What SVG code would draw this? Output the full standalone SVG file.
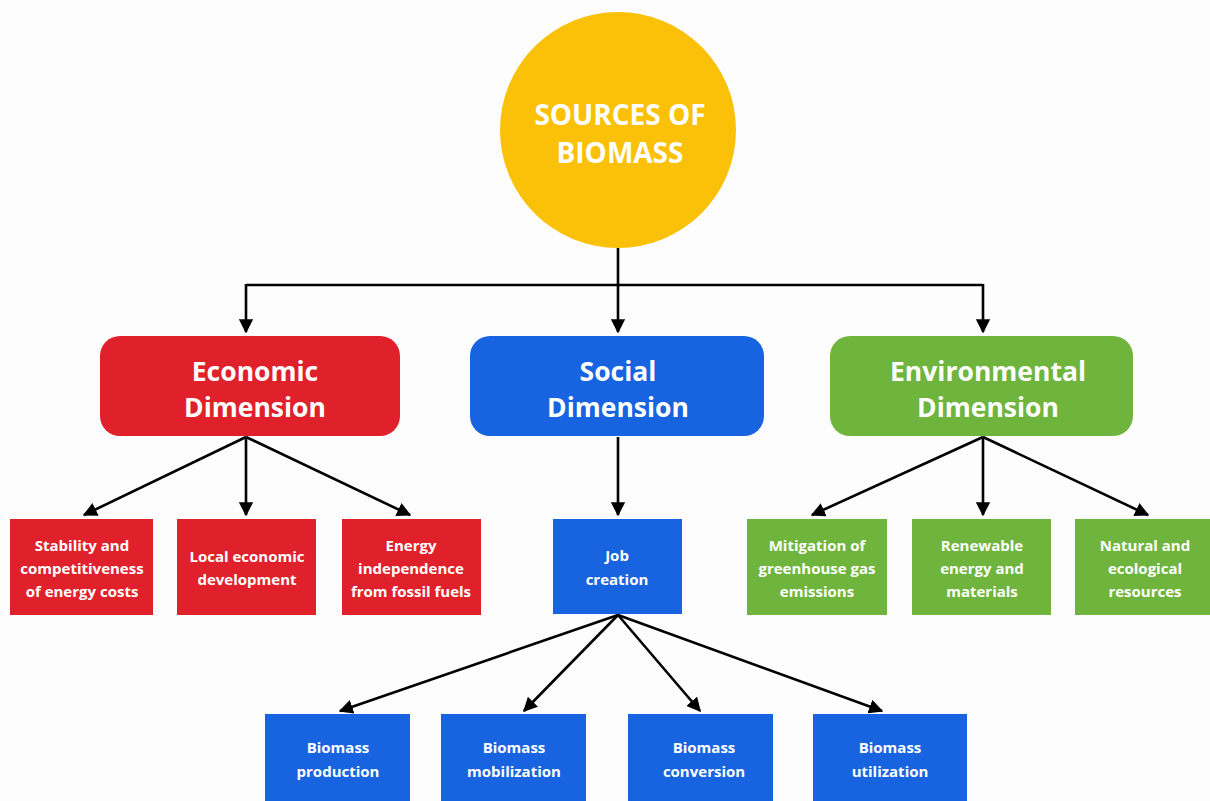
<svg xmlns="http://www.w3.org/2000/svg" width="1210" height="801" viewBox="0 0 1210 801">
<defs>
<marker id="ah" viewBox="0 0 10 10" refX="9" refY="5" markerWidth="5.5" markerHeight="5.5" orient="auto" markerUnits="strokeWidth">
<path d="M0,0 L10,5 L0,10 z" fill="#000"/>
</marker>
<style>
.t{font-family:"Open Sans","Noto Sans","Liberation Sans",sans-serif;font-weight:bold;fill:#fff;text-anchor:middle}
.big{font-size:26.5px}
.sm{font-size:15px}
.c{stroke:#000;stroke-width:2.6;fill:none}
.a{marker-end:url(#ah)}
.red{fill:#E0212B}
.blue{fill:#1763E0}
.green{fill:#6FB43C}
</style>
</defs>
<rect width="1210" height="801" fill="#fdfdfd"/>
<g id="connectors">
<path class="c" d="M618,248 V285 M246,285 H983"/>
<path class="c a" d="M246,284 V332"/>
<path class="c a" d="M618,284 V332"/>
<path class="c a" d="M983,284 V332"/>
<path class="c a" d="M246,437 L84,515"/>
<path class="c a" d="M246,437 V515"/>
<path class="c a" d="M246,437 L410,515"/>
<path class="c a" d="M618,437 V515"/>
<path class="c a" d="M983,437 L812,515"/>
<path class="c a" d="M983,437 V515"/>
<path class="c a" d="M983,437 L1148,515"/>
<path class="c a" d="M618,615 L340,711"/>
<path class="c a" d="M618,615 L524,711"/>
<path class="c a" d="M618,615 L700,711"/>
<path class="c a" d="M618,615 L882,711"/>
</g>
<g id="root">
<circle cx="618" cy="130" r="118" fill="#FAC108"/>
<text class="t" x="620" y="125" font-size="28">SOURCES OF</text>
<text class="t" x="620" y="163" font-size="28">BIOMASS</text>
</g>
<g id="economic">
<rect class="red" x="100" y="336" width="300" height="100" rx="20"/>
<text class="t big" x="255" y="381">Economic</text>
<text class="t big" x="255" y="417">Dimension</text>
</g>
<g id="social">
<rect class="blue" x="470" y="336" width="294" height="100" rx="20"/>
<text class="t big" x="618" y="381">Social</text>
<text class="t big" x="618" y="417">Dimension</text>
</g>
<g id="environmental">
<rect class="green" x="830" y="336" width="303" height="100" rx="20"/>
<text class="t big" x="988" y="381">Environmental</text>
<text class="t big" x="988" y="417">Dimension</text>
</g>
<g id="stability">
<rect class="red" x="10" y="519" width="143" height="96"/>
<text class="t sm" x="82" y="551">Stability and</text>
<text class="t sm" x="82" y="574">competitiveness</text>
<text class="t sm" x="82" y="597">of energy costs</text>
</g>
<g id="local">
<rect class="red" x="177" y="519" width="139" height="96"/>
<text class="t sm" x="247" y="562">Local economic</text>
<text class="t sm" x="247" y="585">development</text>
</g>
<g id="energyind">
<rect class="red" x="342" y="519" width="139" height="96"/>
<text class="t sm" x="411" y="551">Energy</text>
<text class="t sm" x="411" y="574">independence</text>
<text class="t sm" x="411" y="597">from fossil fuels</text>
</g>
<g id="job">
<rect class="blue" x="553" y="519" width="129" height="95"/>
<text class="t sm" x="617" y="561">Job</text>
<text class="t sm" x="617" y="585">creation</text>
</g>
<g id="mitigation">
<rect class="green" x="747" y="519" width="140" height="96"/>
<text class="t sm" x="817" y="551">Mitigation of</text>
<text class="t sm" x="817" y="574">greenhouse gas</text>
<text class="t sm" x="817" y="597">emissions</text>
</g>
<g id="renewable">
<rect class="green" x="912" y="519" width="139" height="96"/>
<text class="t sm" x="982" y="551">Renewable</text>
<text class="t sm" x="982" y="574">energy and</text>
<text class="t sm" x="982" y="597">materials</text>
</g>
<g id="natural">
<rect class="green" x="1075" y="519" width="140" height="96"/>
<text class="t sm" x="1145" y="551">Natural and</text>
<text class="t sm" x="1145" y="574">ecological</text>
<text class="t sm" x="1145" y="597">resources</text>
</g>
<g id="production">
<rect class="blue" x="265" y="714" width="145" height="90"/>
<text class="t sm" x="338" y="753">Biomass</text>
<text class="t sm" x="338" y="777">production</text>
</g>
<g id="mobilization">
<rect class="blue" x="441" y="714" width="145" height="90"/>
<text class="t sm" x="514" y="753">Biomass</text>
<text class="t sm" x="514" y="777">mobilization</text>
</g>
<g id="conversion">
<rect class="blue" x="628" y="714" width="145" height="90"/>
<text class="t sm" x="704" y="753">Biomass</text>
<text class="t sm" x="704" y="777">conversion</text>
</g>
<g id="utilization">
<rect class="blue" x="813" y="714" width="154" height="90"/>
<text class="t sm" x="890" y="753">Biomass</text>
<text class="t sm" x="890" y="777">utilization</text>
</g>
</svg>
